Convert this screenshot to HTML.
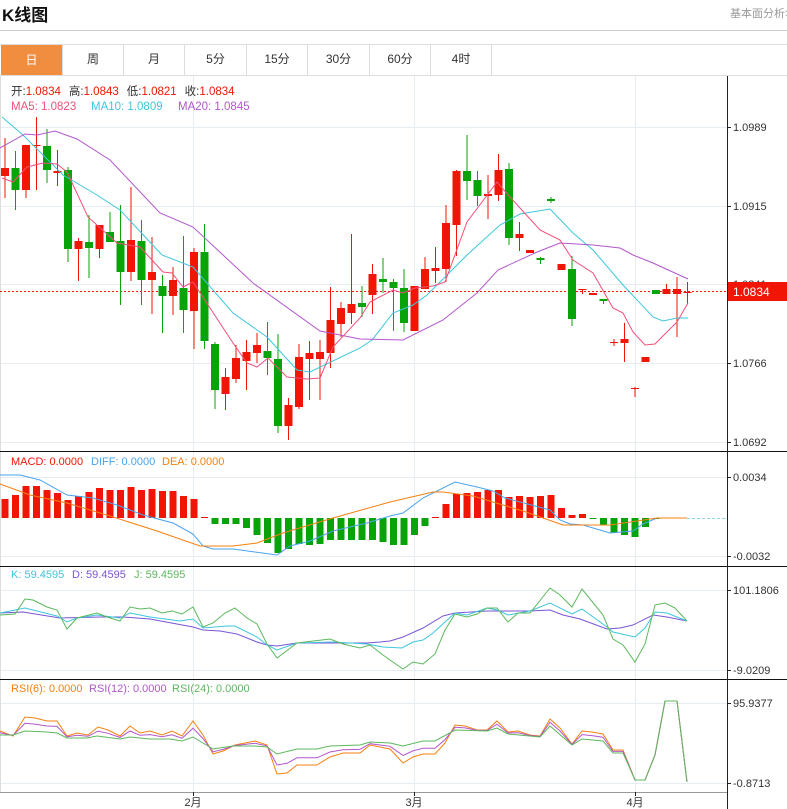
<!DOCTYPE html>
<html><head><meta charset="utf-8">
<style>
*{margin:0;padding:0;box-sizing:border-box}
body{width:787px;height:809px;background:#fff;font-family:"Liberation Sans","Noto Sans CJK SC",sans-serif;position:relative;overflow:hidden}
.t{position:absolute;white-space:nowrap}
.tab{position:absolute;top:44px;height:31px;line-height:31px;text-align:center;font-size:12px;color:#333;border-right:1px solid #ddd}
</style></head><body>
<div class="t" style="left:2px;top:1px;font-size:17px;font-weight:bold;color:#111">K线图</div>
<div class="t" style="left:730px;top:5px;font-size:11px;color:#999">基本面分析&gt;</div>
<div style="position:absolute;left:0;top:30px;width:787px;height:1px;background:#ccc"></div>
<div style="position:absolute;left:0;top:44px;width:787px;height:1px;background:#ddd"></div>
<div style="position:absolute;left:0;top:75px;width:787px;height:1px;background:#ddd"></div>
<div class="tab" style="left:1px;width:62px;background:#f18d3f;color:#fff;top:45px;height:30px;line-height:30px">日</div>
<div class="tab" style="left:63px;width:61px">周</div>
<div class="tab" style="left:124px;width:61px">月</div>
<div class="tab" style="left:185px;width:62px">5分</div>
<div class="tab" style="left:247px;width:61px">15分</div>
<div class="tab" style="left:308px;width:62px">30分</div>
<div class="tab" style="left:370px;width:61px">60分</div>
<div class="tab" style="left:431px;width:61px">4时</div>
<svg id="s" width="787" height="809" style="position:absolute;left:0;top:0" xmlns="http://www.w3.org/2000/svg"></svg>
<script>
var S='';
function L(x1,y1,x2,y2,c,w,d){S+='<line x1="'+x1+'" y1="'+y1+'" x2="'+x2+'" y2="'+y2+'" stroke="'+c+'" stroke-width="'+(w||1)+'"'+(d?' stroke-dasharray="'+d+'"':'')+'/>';}
function R(x,y,w,h,c){S+='<rect x="'+x+'" y="'+y+'" width="'+w+'" height="'+Math.max(h,1)+'" fill="'+c+'"/>';}
function T(x,y,t,c,s,a){S+='<text x="'+x+'" y="'+y+'" fill="'+c+'" font-size="'+(s||11)+'"'+(a?' text-anchor="'+a+'"':'')+'>'+t+'</text>';}
function P(pts,c){S+='<polyline fill="none" stroke="'+c+'" stroke-width="1" points="'+pts.map(function(p){return p[0]+','+p[1]}).join(' ')+'"/>';}
var RED='#f01505',GRN='#08a308',GL='#e6edf2';
// grids
[127,206,284,363,442,477,556,590,670,703,783].forEach(function(y){L(0,y+.5,727,y+.5,GL);});
[193,414,635].forEach(function(x){L(x+.5,76,x+.5,792,GL);});
L(0.5,76,0.5,792,'#ddd');
// panel separators
[451,566,679].forEach(function(y){L(0,y+.5,787,y+.5,'#111');});
L(0,792.5,727,792.5,'#999');
L(727.5,76,727.5,809,'#222');
// axis labels
[[127,'1.0989'],[206,'1.0915'],[284,'1.0841'],[363,'1.0766'],[442,'1.0692'],[477,'0.0034'],[556,'-0.0032'],[590,'101.1806'],[670,'-9.0209'],[703,'95.9377'],[783,'-0.8713']].forEach(function(a){L(727,a[0]+.5,731,a[0]+.5,'#222');T(733,a[0]+4,a[1],'#333',11);});
[[193,'2月'],[414,'3月'],[635,'4月']].forEach(function(a){L(a[0]+.5,792,a[0]+.5,796,'#222');T(a[0],806,a[1],'#333',11,'middle');});
// price line
L(0,291.5,727,291.5,RED,1,'2,2');
R(728,282,59,19,RED);T(733,296,'1.0834','#fff',12);
// candles [bt,bb,wt,wb,c]
var C=[[168,176,138,198,'r'],[168,190,151,210,'g'],[145,190,145,198,'r'],[145,146,117,190,'r'],[146,170,129,183,'g'],[171,173,150,186,'r'],[170,249,167,262,'g'],[241,249,238,281,'r'],[242,248,215,278,'g'],[225,249,225,258,'r'],[232,242,212,242,'g'],[241,272,205,305,'g'],[240,272,187,281,'r'],[241,280,220,305,'g'],[272,280,237,314,'r'],[286,296,275,333,'g'],[280,296,267,315,'r'],[288,310,236,333,'g'],[252,311,248,349,'r'],[252,341,224,349,'g'],[344,390,342,409,'g'],[377,394,368,410,'r'],[358,379,345,383,'r'],[352,361,340,390,'r'],[345,353,333,363,'r'],[351,358,322,375,'g'],[359,426,334,433,'g'],[405,426,398,440,'r'],[357,407,344,409,'r'],[353,359,341,400,'r'],[352,359,340,400,'r'],[320,353,287,368,'r'],[308,324,302,337,'r'],[304,313,234,324,'r'],[303,307,286,317,'g'],[274,295,264,314,'r'],[279,282,258,293,'g'],[282,288,279,331,'g'],[288,323,269,332,'g'],[286,331,286,331,'r'],[269,289,257,289,'r'],[268,271,247,283,'r'],[223,269,205,282,'r'],[171,225,170,256,'r'],[171,181,135,200,'g'],[180,196,171,206,'g'],[194,196,175,219,'r'],[170,195,154,201,'r'],[169,238,163,245,'g'],[234,238,222,251,'r'],[250,253,250,253,'r'],[258,260,257,264,'g'],[199,201,197,203,'g'],[264,270,264,270,'r'],[269,319,256,326,'g'],[289,290,289,294,'r'],[293,295,293,295,'r'],[299,301,299,304,'g'],[342,343,339,346,'r'],[339,343,323,362,'r'],[388,389,387,397,'r'],[357,362,357,362,'r'],[290,294,290,294,'g'],[289,294,284,294,'r'],[289,294,277,337,'r'],[292,293,282,304,'r']];
function cx(i){return 5+i*10.5;}
C.forEach(function(c,i){var x=cx(i),col=c[4]=='r'?RED:GRN;L(x,c[2],x,c[3],col);R(x-4,c[0],8,c[1]-c[0],col);});
P([[2,117],[23,135],[63,175],[97,195],[120,210],[162,255],[193,267],[233,313],[267,337],[297,370],[310,372],[360,348],[372,340],[393,313],[413,305],[427,295],[467,255],[500,225],[520,214],[550,209],[573,233],[593,250],[623,285],[653,317],[663,321],[677,318],[688,318]],'#3ec6dc');
P([[0,148],[25,134],[37,135],[55,131],[77,139],[110,160],[160,213],[193,227],[253,283],[320,331],[360,339],[403,340],[443,320],[477,293],[498,270],[537,252],[560,243],[593,245],[620,248],[633,255],[653,263],[688,279]],'#b257cc');
P([[2,178],[13,182],[27,167],[43,163],[57,164],[67,172],[88,217],[117,243],[140,247],[163,272],[172,273],[183,287],[193,282],[233,343],[247,363],[257,367],[268,358],[287,377],[307,379],[320,378],[333,347],[360,318],[370,302],[393,290],[403,293],[415,288],[433,286],[445,282],[467,222],[497,182],[510,197],[540,230],[560,240],[573,260],[593,273],[613,308],[623,313],[633,332],[645,345],[655,344],[677,322],[688,303]],'#f0507a');
// MACD
var M=[499,495,486,486,490,493,500,496,492,488,490,490,487,490,489,491,491,496,499,517,524,524,524,528,535,543,553,549,544,545,544,540,540,540,540,540,542,545,545,535,526,517,504,494,493,492,490,490,497,496,497,496,495,508,515,514,519,525,533,535,537,527,519,518,518,518];
var Z=518;
M.forEach(function(y,i){var x=cx(i);if(i<=19||(i>=41&&i<=55)){if(y<Z)R(x-3.5,y,7,Z-y,RED);}else{if(y>Z)R(x-3.5,Z,7,y-Z,GRN);}});
L(687,518.5,727,518.5,'#8cd3ea',1,'3,2');
P([[0,475],[20,475],[40,480],[67,495],[93,498],[117,505],[143,515],[173,523],[193,534],[203,546],[213,549],[233,549],[277,555],[290,546],[310,541],[333,531],[367,523],[390,516],[403,513],[423,498],[455,482],[477,487],[493,491],[505,498],[550,510],[560,520],[570,524],[583,525],[610,533],[633,531],[643,524],[657,518],[687,518]],'#4aa3ef');
P([[0,484],[30,495],[67,503],[110,516],[157,531],[200,546],[233,546],[257,543],[283,533],[333,518],[390,502],[433,492],[443,492],[473,496],[523,511],[563,525],[610,525],[657,518],[687,518]],'#f5800f');
// KDJ
P([[0,613],[23,612],[60,618],[100,617],[123,617],[150,619],[193,627],[203,630],[220,631],[237,634],[257,642],[267,645],[277,646],[297,643],[367,643],[380,642],[390,641],[403,637],[423,628],[443,616],[455,613],[487,611],[530,611],[550,610],[563,615],[580,619],[607,629],[620,628],[633,625],[653,615],[667,617],[687,621]],'#7a55d4');
P([[0,613],[25,608],[57,616],[67,622],[77,618],[97,615],[120,618],[130,613],[150,617],[180,621],[193,619],[203,628],[227,626],[235,626],[257,637],[267,645],[277,650],[297,643],[333,642],[367,644],[383,647],[402,648],[413,642],[423,640],[433,633],[445,622],[455,613],[467,615],[487,608],[497,610],[508,615],[530,611],[550,603],[572,614],[582,609],[607,627],[613,632],[635,637],[645,628],[655,612],[667,613],[687,621]],'#3ec6dc');
P([[0,615],[15,614],[25,599],[33,600],[47,607],[57,610],[67,629],[77,618],[97,613],[107,617],[120,621],[130,607],[140,609],[150,608],[162,613],[172,611],[182,614],[193,607],[203,627],[213,623],[225,613],[235,608],[247,618],[257,624],[267,644],[277,658],[297,643],[330,639],[343,644],[360,648],[370,645],[383,655],[390,660],[403,669],[413,662],[423,664],[435,654],[445,630],[455,614],[467,617],[477,614],[487,608],[497,608],[508,622],[518,613],[530,613],[550,588],[560,595],[572,607],[582,589],[603,615],[613,639],[623,645],[635,662],[645,644],[655,605],[665,603],[675,608],[687,621]],'#5cb85c');
// RSI
var R6=[[0,731],[13,736],[25,717],[35,718],[47,721],[57,721],[67,736],[77,733],[88,735],[98,727],[108,730],[120,736],[130,726],[140,733],[150,731],[162,735],[172,731],[182,736],[193,721],[203,735],[213,754],[223,751],[235,745],[245,743],[255,741],[267,745],[277,774],[287,773],[297,765],[317,765],[330,757],[343,753],[360,753],[370,745],[390,749],[403,763],[413,757],[423,754],[435,754],[445,743],[455,725],[465,726],[477,730],[487,730],[497,721],[508,732],[518,731],[530,735],[540,736],[550,719],[560,728],[572,744],[582,731],[592,732],[603,734],[613,750],[623,750],[635,780],[645,780],[655,755],[665,701],[677,701],[687,782]];
var R24=[[0,735],[13,735],[25,731],[47,732],[57,733],[67,738],[87,738],[97,736],[120,739],[130,737],[150,739],[170,739],[182,741],[193,737],[213,749],[233,746],[255,746],[267,747],[277,754],[297,749],[317,749],[330,746],[360,745],[370,742],[390,743],[403,746],[423,741],[435,741],[455,730],[487,731],[497,728],[508,734],[540,737],[550,726],[572,745],[582,739],[603,741],[613,753],[623,753],[635,780],[645,780],[655,755],[665,701],[677,701],[687,782]];
function ip(a,x){for(var i=1;i<a.length;i++){if(x<=a[i][0]){var t=(x-a[i-1][0])/(a[i][0]-a[i-1][0]);return a[i-1][1]+t*(a[i][1]-a[i-1][1]);}}return a[a.length-1][1];}
var R12=R6.map(function(p){return [p[0],(p[1]*0.55+ip(R24,p[0])*0.45).toFixed(1)];});
P(R6,'#f5800f');P(R12,'#b257cc');P(R24,'#5cb85c');
// legends
S+='<text y="95" font-size="11.5"><tspan x="11" fill="#333">开:</tspan><tspan fill="#f01505">1.0834</tspan><tspan dx="8" fill="#333">高:</tspan><tspan fill="#f01505">1.0843</tspan><tspan dx="8" fill="#333">低:</tspan><tspan fill="#f01505">1.0821</tspan><tspan dx="8" fill="#333">收:</tspan><tspan fill="#f01505">1.0834</tspan></text>';
T(11,110,'MA5: 1.0823','#f0507a',11.5);T(91,110,'MA10: 1.0809','#3ec6dc',11.5);T(178,110,'MA20: 1.0845','#b257cc',11.5);
T(11,465,'MACD: 0.0000','#f01505',11);T(91,465,'DIFF: 0.0000','#4aa3ef',11);T(162,465,'DEA: 0.0000','#f5800f',11);
T(11,578,'K: 59.4595','#3ec6dc',11);T(72,578,'D: 59.4595','#7a55d4',11);T(134,578,'J: 59.4595','#5cb85c',11);
T(11,692,'RSI(6): 0.0000','#f5800f',11);T(89,692,'RSI(12): 0.0000','#b257cc',11);T(172,692,'RSI(24): 0.0000','#5cb85c',11);
document.getElementById('s').innerHTML=S;
</script>
</body></html>
